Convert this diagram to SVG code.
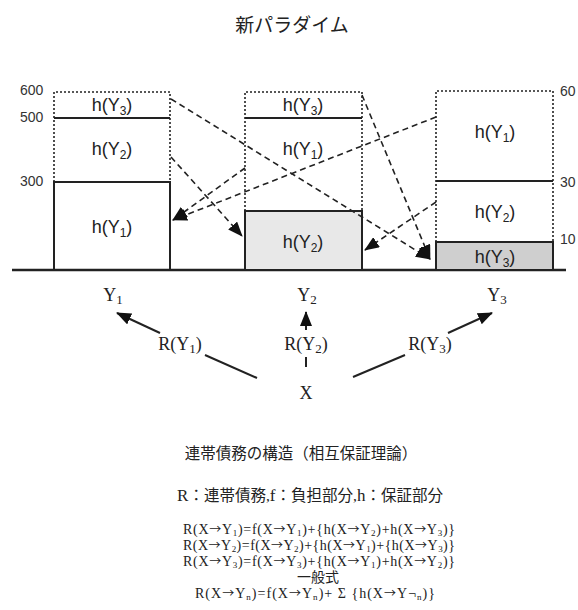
<svg xmlns="http://www.w3.org/2000/svg" width="578" height="610" viewBox="0 0 578 610">
<style>
.dot{fill:none;stroke:#222;stroke-width:1.6;stroke-dasharray:2,2}
.sol{fill:none;stroke:#222;stroke-width:2}
.dash{fill:none;stroke:#222;stroke-width:1.6;stroke-dasharray:6,4}
.arr{fill:none;stroke:#222;stroke-width:2}
.hs{font-family:"Liberation Sans",Arial,sans-serif;font-size:18px;fill:#222;text-anchor:middle}
.num{font-family:"Liberation Sans",Arial,sans-serif;font-size:14px;fill:#333}
.sf{font-family:"Liberation Serif","Times New Roman",serif;font-size:18px;fill:#222;text-anchor:middle}
.jp{font-family:"Liberation Serif","Noto Sans CJK JP",serif;fill:#222;text-anchor:middle}
.fm{font-family:"Liberation Serif","Times New Roman","Noto Sans CJK JP",serif;font-size:14px;fill:#222;text-anchor:middle}
.ar{font-family:"Noto Sans CJK JP","DejaVu Sans",sans-serif;font-size:12px}
.sb{font-size:9px}
</style>
<defs>
<marker id="ah" markerUnits="userSpaceOnUse" markerWidth="16" markerHeight="12" refX="14" refY="6" orient="auto" viewBox="0 0 16 12">
<path d="M0,0 L15,6 L0,12 z" fill="#111"/>
</marker>
</defs>

<text x="292" y="32" class="jp" style="font-size:19px">新パラダイム</text>

<line x1="12" y1="270" x2="566" y2="270" stroke="#222" stroke-width="2.4"/>

<g id="scale-left" class="num">
<text x="20" y="95">600</text>
<text x="20" y="122">500</text>
<text x="20" y="186">300</text>
</g>
<g id="scale-right" class="num">
<text x="560" y="96">60</text>
<text x="560" y="187">30</text>
<text x="560" y="244">10</text>
</g>

<g id="box1">
<path class="dot" d="M54,182 V92 H170 V182"/>
<line class="sol" x1="54" y1="118" x2="170" y2="118"/>
<rect class="sol" x="54" y="182" width="116" height="88" fill="#fff"/>
<text class="hs" x="112" y="111">h(Y<tspan font-size="12" dy="4">3</tspan><tspan dy="-4">)</tspan></text>
<text class="hs" x="112" y="155">h(Y<tspan font-size="12" dy="4">2</tspan><tspan dy="-4">)</tspan></text>
<text class="hs" x="112" y="233">h(Y<tspan font-size="12" dy="4">1</tspan><tspan dy="-4">)</tspan></text>
</g>

<g id="box2">
<path class="dot" d="M245,211 V92 H362 V211"/>
<line class="sol" x1="245" y1="118" x2="362" y2="118"/>
<rect x="245" y="211" width="117" height="59" fill="#e8e8e8" stroke="#222" stroke-width="2"/>
<text class="hs" x="303" y="111">h(Y<tspan font-size="12" dy="4">3</tspan><tspan dy="-4">)</tspan></text>
<text class="hs" x="303" y="155">h(Y<tspan font-size="12" dy="4">1</tspan><tspan dy="-4">)</tspan></text>
<text class="hs" x="303" y="248">h(Y<tspan font-size="12" dy="4">2</tspan><tspan dy="-4">)</tspan></text>
</g>

<g id="box3">
<path class="dot" d="M436,242 V91 H553 V242"/>
<line class="sol" x1="436" y1="181" x2="553" y2="181"/>
<rect x="436" y="242" width="117" height="28" fill="#cfcfcf" stroke="#222" stroke-width="2"/>
<text class="hs" x="495" y="138">h(Y<tspan font-size="12" dy="4">1</tspan><tspan dy="-4">)</tspan></text>
<text class="hs" x="495" y="218">h(Y<tspan font-size="12" dy="4">2</tspan><tspan dy="-4">)</tspan></text>
<text class="hs" x="495" y="263">h(Y<tspan font-size="12" dy="4">3</tspan><tspan dy="-4">)</tspan></text>
</g>

<g id="connectors">
<line class="dash" x1="171" y1="99" x2="430" y2="259" marker-end="url(#ah)"/>
<line class="dash" x1="362" y1="95" x2="430" y2="259" marker-end="url(#ah)"/>
<line class="dash" x1="171" y1="157" x2="242" y2="236" marker-end="url(#ah)"/>
<line class="dash" x1="245" y1="168" x2="173" y2="220" marker-end="url(#ah)"/>
<line class="dash" x1="436" y1="117" x2="173" y2="220" marker-end="url(#ah)"/>
<line class="dash" x1="436" y1="202" x2="365" y2="250" marker-end="url(#ah)"/>

<line class="arr" x1="257" y1="378" x2="205" y2="355"/>
<line class="arr" x1="160" y1="333" x2="117" y2="313" marker-end="url(#ah)"/>
<line class="arr" x1="306" y1="367" x2="306" y2="357"/>
<line class="arr" x1="306" y1="330" x2="306" y2="312" marker-end="url(#ah)"/>
<line class="arr" x1="353" y1="377" x2="405" y2="355"/>
<line class="arr" x1="448" y1="333" x2="492" y2="313" marker-end="url(#ah)"/>
</g>

<g id="Y1"><text class="sf" x="113" y="301">Y<tspan font-size="13" dy="3">1</tspan></text></g>
<g id="Y2"><text class="sf" x="307" y="301">Y<tspan font-size="13" dy="3">2</tspan></text></g>
<g id="Y3"><text class="sf" x="497" y="301">Y<tspan font-size="13" dy="3">3</tspan></text></g>
<g id="X"><text class="sf" x="306" y="399">X</text></g>

<g id="labels">
<text class="sf" x="180" y="350">R(Y<tspan font-size="13" dy="3">1</tspan><tspan dy="-3">)</tspan></text>
<text class="sf" x="306" y="350">R(Y<tspan font-size="13" dy="3">2</tspan><tspan dy="-3">)</tspan></text>
<text class="sf" x="430" y="350">R(Y<tspan font-size="13" dy="3">3</tspan><tspan dy="-3">)</tspan></text>
</g>

<g id="caption">
<text class="jp" x="301" y="459" style="font-size:15.5px">連帯債務の構造（相互保証理論）</text>
<text class="jp" x="310" y="501" style="font-size:15.5px"><tspan font-size="17">R</tspan>：連帯債務,<tspan font-size="17">f</tspan>：負担部分,<tspan font-size="17">h</tspan>：保証部分</text>
<text class="fm" x="319" y="534" textLength="272" lengthAdjust="spacing">R(X<tspan class="ar">→</tspan>Y<tspan class="sb" dy="2">1</tspan><tspan dy="-2">)=f(X</tspan><tspan class="ar">→</tspan>Y<tspan class="sb" dy="2">1</tspan><tspan dy="-2">)+{h(X</tspan><tspan class="ar">→</tspan>Y<tspan class="sb" dy="2">2</tspan><tspan dy="-2">)+h(X</tspan><tspan class="ar">→</tspan>Y<tspan class="sb" dy="2">3</tspan><tspan dy="-2">)}</tspan></text>
<text class="fm" x="319" y="550" textLength="272" lengthAdjust="spacing">R(X<tspan class="ar">→</tspan>Y<tspan class="sb" dy="2">2</tspan><tspan dy="-2">)=f(X</tspan><tspan class="ar">→</tspan>Y<tspan class="sb" dy="2">2</tspan><tspan dy="-2">)+{h(X</tspan><tspan class="ar">→</tspan>Y<tspan class="sb" dy="2">1</tspan><tspan dy="-2">)+{h(X</tspan><tspan class="ar">→</tspan>Y<tspan class="sb" dy="2">3</tspan><tspan dy="-2">)}</tspan></text>
<text class="fm" x="319" y="566" textLength="272" lengthAdjust="spacing">R(X<tspan class="ar">→</tspan>Y<tspan class="sb" dy="2">3</tspan><tspan dy="-2">)=f(X</tspan><tspan class="ar">→</tspan>Y<tspan class="sb" dy="2">3</tspan><tspan dy="-2">)+{h(X</tspan><tspan class="ar">→</tspan>Y<tspan class="sb" dy="2">1</tspan><tspan dy="-2">)+h(X</tspan><tspan class="ar">→</tspan>Y<tspan class="sb" dy="2">2</tspan><tspan dy="-2">)}</tspan></text>
<text class="fm" x="318" y="582">一般式</text>
<text class="fm" x="315" y="598" textLength="240" lengthAdjust="spacing">R(X<tspan class="ar">→</tspan>Y<tspan class="sb" dy="2">n</tspan><tspan dy="-2">)=f(X</tspan><tspan class="ar">→</tspan>Y<tspan class="sb" dy="2">n</tspan><tspan dy="-2">)+ Σ {h(X</tspan><tspan class="ar">→</tspan>Y<tspan>¬</tspan><tspan class="sb" dy="2">n</tspan><tspan dy="-2">)}</tspan></text>
</g>
</svg>
